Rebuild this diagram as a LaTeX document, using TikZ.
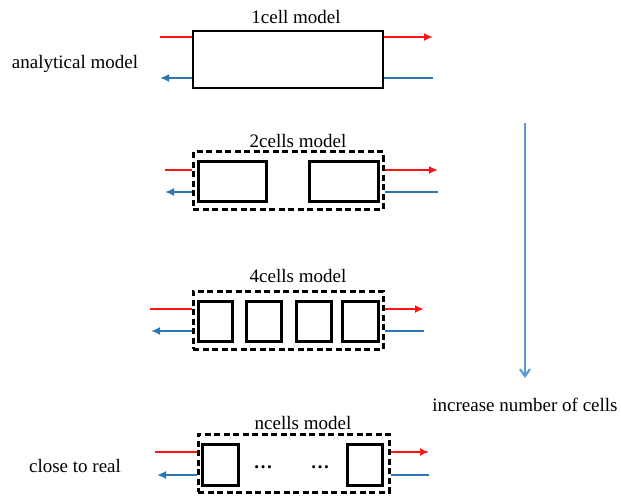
\documentclass[tikz,border=0pt]{standalone}
\usepackage{fontspec}
\setmainfont{Liberation Serif}
\usetikzlibrary{arrows.meta}
\definecolor{hotred}{RGB}{255,20,20}
\definecolor{coldblue}{RGB}{46,117,182}
\definecolor{lightblue}{RGB}{91,155,213}
\tikzset{
  lbl/.style={font=\fontsize{19}{22}\selectfont, inner sep=0pt},
  cellbox/.style={draw=black, line width=3pt, inner sep=0pt},
  dashbox/.style={draw=black, line width=3pt, dash pattern=on 6pt off 3.5pt, inner sep=0pt},
  hotline/.style={draw=hotred, line width=2.6pt},
  coldline/.style={draw=coldblue, line width=2.6pt},
  tip/.style={-{Latex[length=9pt,width=8pt]}},
}
\begin{document}
\begin{tikzpicture}[x=1pt,y=-1pt]
\useasboundingbox (0,0) rectangle (621,500);

% ---------- 1 cell ----------
\node[lbl] (t1) at (296,17) {1cell model};
\node[cellbox, line width=2.8pt, minimum width=190pt, minimum height=57pt] (b1) at (288,59.5) {};
\coordinate (i1h) at (160,37);
\coordinate (o1h) at (433,37);
\coordinate (i1c) at (160,78);
\coordinate (o1c) at (433,78);
\draw[hotline] (i1h) -- (i1h -| b1.west);
\draw[hotline, tip] (o1h -| b1.east) -- (o1h);
\draw[coldline, tip] (i1c -| b1.west) -- (i1c);
\draw[coldline] (o1c -| b1.east) -- (o1c);
\node[lbl] (l1) at (75,64) {analytical model};

% ---------- 2 cells ----------
\node[lbl] (t2) at (298,141) {2cells model};
\node[dashbox, minimum width=190pt, minimum height=57pt] (d2) at (288,180.5) {};
\node[cellbox, minimum width=68pt, minimum height=40pt] (c21) at (232,181) {};
\node[cellbox, minimum width=69pt, minimum height=40pt] (c22) at (343.5,181) {};
\coordinate (i2h) at (165,170);
\coordinate (o2h) at (438,170);
\coordinate (i2c) at (165,192);
\coordinate (o2c) at (438,192);
\draw[hotline] (i2h) -- (i2h -| d2.west);
\draw[hotline, tip] (o2h -| d2.east) -- (o2h);
\draw[coldline, tip] (i2c -| d2.west) -- (i2c);
\draw[coldline] (o2c -| d2.east) -- (o2c);

% ---------- 4 cells ----------
\node[lbl] (t4) at (298,276) {4cells model};
\node[dashbox, minimum width=190pt, minimum height=58pt] (d4) at (288,320) {};
\node[cellbox, minimum width=34pt, minimum height=40pt] (c41) at (215,321) {};
\node[cellbox, minimum width=35pt, minimum height=40pt] (c42) at (263.5,321) {};
\node[cellbox, minimum width=35pt, minimum height=40pt] (c43) at (313.5,321) {};
\node[cellbox, minimum width=36pt, minimum height=40pt] (c44) at (360,321) {};
\coordinate (i4h) at (150,309);
\coordinate (o4h) at (424,309);
\coordinate (i4c) at (151,331);
\coordinate (o4c) at (424,331);
\draw[hotline] (i4h) -- (i4h -| d4.west);
\draw[hotline, tip] (o4h -| d4.east) -- (o4h);
\draw[coldline, tip] (i4c -| d4.west) -- (i4c);
\draw[coldline] (o4c -| d4.east) -- (o4c);

% ---------- n cells ----------
\node[lbl] (tn) at (303,423) {ncells model};
\node[dashbox, minimum width=191pt, minimum height=58pt] (dn) at (293.5,463) {};
\node[cellbox, minimum width=36pt, minimum height=41pt] (cn1) at (220,464.5) {};
\node[cellbox, minimum width=35pt, minimum height=41pt] (cn2) at (364.5,464.5) {};
\node[lbl] (dots1) at (263,467) {\textbf{…}};
\node[lbl] (dots2) at (320,467) {\textbf{…}};
\coordinate (inh) at (155,452);
\coordinate (onh) at (429,452);
\coordinate (inc) at (157,475);
\coordinate (onc) at (429,475);
\draw[hotline] (inh) -- (inh -| dn.west);
\draw[hotline, tip] (onh -| dn.east) -- (onh);
\draw[coldline, tip] (inc -| dn.west) -- (inc);
\draw[coldline] (onc -| dn.east) -- (onc);
\node[lbl] (ln) at (75,466) {close to real};

% ---------- trend arrow ----------
\coordinate (trtop) at (525,123);
\coordinate (trbot) at (525,378);
\draw[draw=lightblue, line width=2.2pt, -{Straight Barb[length=7pt,width=10pt]}] (trtop) -- (trbot);
\node[lbl] (tr) at (525,405) {increase number of cells};
\end{tikzpicture}
\end{document}
